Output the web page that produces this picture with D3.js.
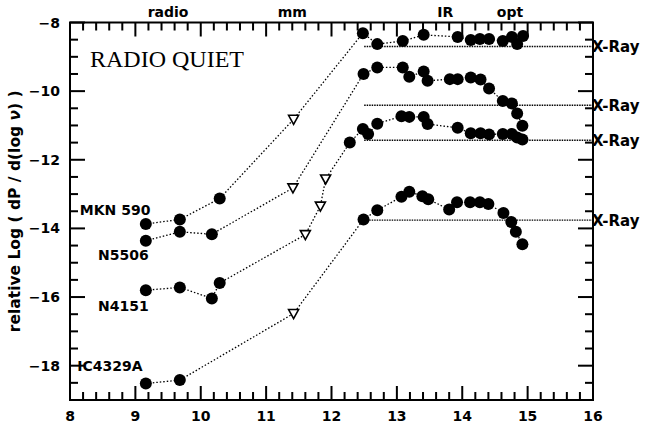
<!DOCTYPE html>
<html>
<head>
<meta charset="utf-8">
<script src="https://cdn.jsdelivr.net/npm/d3@7"></script>
<style>
  body { margin: 0; background: #fff; }
  text { fill: #000; }
</style>
</head>
<body>
<div id="chart"></div>
<script>
// each point: [log nu, relative log power, 1 = upper limit (open triangle)]
const mkn590 = [
  [9.16, -13.87, 0], [9.68, -13.74, 0], [10.29, -13.13, 0], [11.42, -10.82, 1],
  [12.48, -8.31, 0], [12.70, -8.63, 0], [13.09, -8.54, 0], [13.41, -8.36, 0],
  [13.93, -8.42, 0], [14.13, -8.51, 0], [14.27, -8.48, 0], [14.41, -8.48, 0],
  [14.62, -8.54, 0], [14.76, -8.42, 0], [14.84, -8.63, 0], [14.93, -8.39, 0]
];
const n5506 = [
  [9.16, -14.36, 0], [9.68, -14.10, 0], [10.17, -14.17, 0], [11.41, -12.82, 1],
  [12.49, -9.50, 0], [12.70, -9.31, 0], [13.09, -9.31, 0], [13.19, -9.58, 0],
  [13.41, -9.43, 0], [13.47, -9.70, 0], [13.81, -9.65, 0], [13.93, -9.65, 0],
  [14.13, -9.60, 0], [14.28, -9.66, 0], [14.41, -9.92, 0], [14.62, -10.29, 0],
  [14.76, -10.36, 0], [14.84, -10.65, 0], [14.92, -11.01, 0]
];
const n4151 = [
  [9.16, -15.80, 0], [9.68, -15.72, 0], [10.17, -16.04, 0], [10.29, -15.59, 0],
  [11.60, -14.18, 1], [11.83, -13.35, 1], [11.91, -12.56, 1],
  [12.28, -11.50, 0], [12.48, -11.10, 0], [12.56, -11.25, 0], [12.70, -10.95, 0],
  [13.07, -10.73, 0], [13.19, -10.75, 0], [13.41, -10.75, 0], [13.47, -10.96, 0],
  [13.93, -11.07, 0], [14.13, -11.23, 0], [14.28, -11.23, 0], [14.41, -11.26, 0],
  [14.62, -11.25, 0], [14.76, -11.25, 0], [14.84, -11.35, 0], [14.92, -11.41, 0]
];
const ic4329a = [
  [9.16, -18.52, 0], [9.68, -18.42, 0], [11.42, -16.48, 1],
  [12.49, -13.74, 0], [12.70, -13.47, 0], [13.07, -13.08, 0], [13.19, -12.93, 0],
  [13.39, -13.06, 0], [13.48, -13.15, 0], [13.80, -13.45, 0], [13.92, -13.24, 0],
  [14.12, -13.24, 0], [14.27, -13.24, 0], [14.40, -13.29, 0], [14.63, -13.55, 0],
  [14.75, -13.81, 0], [14.82, -14.10, 0], [14.92, -14.46, 0]
];

const seriesList = [mkn590, n5506, n4151, ic4329a];
const galaxyNames = ["MKN 590", "N5506", "N4151", "IC4329A"];
// where each name is written: [log nu, log P]
const nameAnchors = [[8.15, -13.47], [8.43, -14.78], [8.43, -16.27], [8.11, -18.0]];
const xrayLevels = [-8.70, -10.41, -11.43, -13.76];
const xrayStart = 12.5;
const bandNames = ["radio", "mm", "IR", "opt"];
const bandCenters = [9.5, 11.4, 13.74, 14.73];

const width = 646, height = 428;
const margin = {top: 22.5, right: 53, bottom: 28, left: 70};
const w = width - margin.left - margin.right,
      h = height - margin.top - margin.bottom;

const svg = d3.select("#chart").append("svg")
  .attr("width", width).attr("height", height)
  .style("font-family", "DejaVu Sans, sans-serif");

const g = svg.append("g")
  .attr("transform", "translate(" + margin.left + "," + margin.top + ")");

const x = d3.scaleLinear().domain([8, 16]).range([0, w]);
const y = d3.scaleLinear().domain([-19, -8]).range([h, 0]);

const xTicks = d3.range(8, 16.01, 0.2).map(v => +v.toFixed(1));
const yTicks = d3.range(-19, -7.9, 0.5);
const isXMajor = v => Math.abs(v - Math.round(v)) < 0.01;
const isYMajor = v => Math.abs(v / 2 - Math.round(v / 2)) < 0.01;

// inward ticks on all four sides, drawn as small filled rects
const tk = g.append("g").attr("fill", "#000");
tk.selectAll(".tb").data(xTicks).enter().append("rect")
  .attr("x", d => x(d) - 1).attr("width", 2)
  .attr("y", d => h - (isXMajor(d) ? 14 : 8)).attr("height", d => (isXMajor(d) ? 14 : 8));
tk.selectAll(".tt").data(xTicks).enter().append("rect")
  .attr("x", d => x(d) - 1).attr("width", 2)
  .attr("y", 0).attr("height", d => (isXMajor(d) ? 14 : 8));
tk.selectAll(".tl").data(yTicks).enter().append("rect")
  .attr("y", d => y(d) - 1).attr("height", 2)
  .attr("x", 0).attr("width", d => (isYMajor(d) ? 15 : 8));
tk.selectAll(".tr").data(yTicks).enter().append("rect")
  .attr("y", d => y(d) - 1).attr("height", 2)
  .attr("x", d => w - (isYMajor(d) ? 15 : 8)).attr("width", d => (isYMajor(d) ? 15 : 8));

g.selectAll(".xl").data(xTicks.filter(isXMajor)).enter().append("text")
  .attr("x", d => x(d)).attr("y", h + 21)
  .attr("text-anchor", "middle")
  .style("font-size", "14px").style("font-weight", "bold")
  .text(d => d3.format("d")(d));

g.selectAll(".yl").data(yTicks.filter(isYMajor)).enter().append("text")
  .attr("x", -10).attr("y", d => y(d)).attr("dy", "0.36em")
  .attr("text-anchor", "end")
  .style("font-size", "14px").style("font-weight", "bold")
  .text(d => d3.format("d")(d));

g.append("rect").attr("width", w).attr("height", h)
  .attr("fill", "none").attr("stroke", "#000").attr("stroke-width", 2);

// band labels along the top
g.selectAll(".band").data(bandNames).enter().append("text")
  .attr("x", (d, i) => x(bandCenters[i]))
  .attr("y", -6)
  .attr("text-anchor", "middle")
  .style("font-size", "14px").style("font-weight", "bold")
  .text(d => d);

// x-ray levels
g.selectAll(".xray").data(xrayLevels).enter().append("line")
  .attr("x1", x(xrayStart)).attr("x2", w)
  .attr("y1", d => y(d)).attr("y2", d => y(d))
  .attr("stroke", "#000").attr("stroke-width", 1.4)
  .attr("stroke-dasharray", "1.5,1");

g.selectAll(".xraylab").data(xrayLevels).enter().append("text")
  .attr("x", w - 1).attr("y", d => y(d)).attr("dy", "0.36em")
  .style("font-size", "15px").style("font-weight", "bold")
  .text("X-Ray");

const line = d3.line().x(d => x(d[0])).y(d => y(d[1]));

seriesList.forEach(function (s) {
  g.append("path").datum(s)
    .attr("d", line)
    .attr("fill", "none").attr("stroke", "#000").attr("stroke-width", 1.3)
    .attr("stroke-dasharray", "1.5,2");

  g.selectAll(null).data(s.filter(d => !d[2])).enter().append("circle")
    .attr("cx", d => x(d[0])).attr("cy", d => y(d[1])).attr("r", 6)
    .attr("fill", "#000");

  g.selectAll(null).data(s.filter(d => d[2])).enter().append("path")
    .attr("transform", d => "translate(" + x(d[0]) + "," + y(d[1]) + ")")
    .attr("d", "M-5,-4L5,-4L0,5Z")
    .attr("fill", "#fff").attr("stroke", "#000").attr("stroke-width", 1.6);
});

g.selectAll(".name").data(galaxyNames).enter().append("text")
  .attr("x", (d, i) => x(nameAnchors[i][0]))
  .attr("y", (d, i) => y(nameAnchors[i][1]))
  .attr("dy", "0.36em")
  .style("font-size", "14px").style("font-weight", "bold")
  .text(d => d);

g.append("text")
  .attr("x", 20).attr("y", 44.5)
  .style("font-family", "Liberation Serif, serif")
  .style("font-size", "24px")
  .text("RADIO  QUIET");

const yt = svg.append("text")
  .attr("transform", "translate(20," + (margin.top + h / 2) + ") rotate(-90)")
  .attr("text-anchor", "middle")
  .style("font-size", "15.5px").style("font-weight", "bold");
yt.append("tspan").text("relative Log ( dP / d(log ");
yt.append("tspan").style("font-style", "italic").text("ν");
yt.append("tspan").text(") )");
</script>
</body>
</html>
